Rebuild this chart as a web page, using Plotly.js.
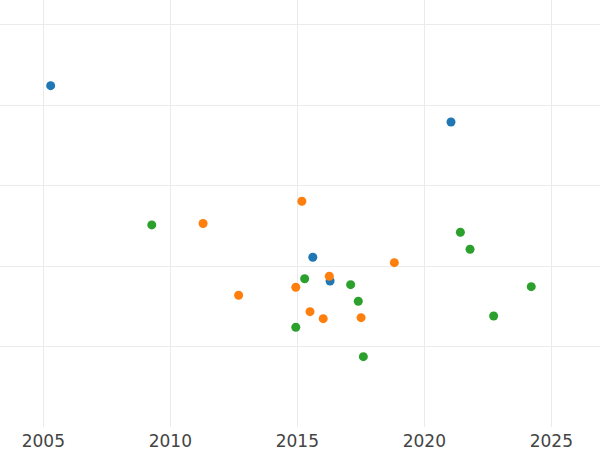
<!DOCTYPE html>
<html>
<head>
<meta charset="utf-8">
<script src="https://cdn.plot.ly/plotly-3.0.1.min.js"></script>
<style>html,body{margin:0;padding:0;background:#fff}#chart{width:600px;height:450px}</style>
</head>
<body>
<div id="chart"></div>
<script>
const blueX = [2005.29, 2021.05, 2015.61, 2016.29];
const blueY = [42.46, 37.95, 21.14, 18.2];
const orangeX = [2011.29, 2015.18, 2012.69, 2014.94, 2016.26, 2018.82, 2015.50, 2016.02, 2017.51];
const orangeY = [25.34, 28.1, 16.42, 17.42, 18.78, 20.47, 14.39, 13.52, 13.64];
const greenX = [2009.27, 2014.94, 2015.29, 2017.10, 2017.40, 2017.60, 2021.42, 2021.80, 2022.73, 2024.21];
const greenY = [25.16, 12.45, 18.48, 17.74, 15.68, 8.80, 24.25, 22.14, 13.85, 17.49];
const xTicks = [2005, 2010, 2015, 2020, 2025];

function tr(x, y, c) {
  return {x: x, y: y, type: 'scatter', mode: 'markers', marker: {color: c, size: 9}, showlegend: false, hoverinfo: 'none'};
}
const data = [tr(blueX, blueY, '#1f77b4'), tr(orangeX, orangeY, '#ff7f0e'), tr(greenX, greenY, '#2ca02c')];
const layout = {
  width: 600, height: 450,
  margin: {l: 0, r: 0, t: 0, b: 23, pad: 0},
  paper_bgcolor: '#fff', plot_bgcolor: '#fff',
  font: {family: 'DejaVu Sans', size: 17, color: '#444'},
  xaxis: {range: [2003.295, 2026.917], tickvals: xTicks, ticktext: xTicks.map(String), showgrid: true, gridcolor: '#ebebeb', gridwidth: 1, zeroline: false, showline: false, ticks: '', ticklabelstandoff: 2},
  yaxis: {range: [0.06, 53.1], tick0: 0, dtick: 10, showticklabels: false, showgrid: true, gridcolor: '#ebebeb', gridwidth: 1, zeroline: false, showline: false, ticks: ''}
};
Plotly.newPlot('chart', data, layout, {displayModeBar: false, staticPlot: true});
</script>
</body>
</html>
